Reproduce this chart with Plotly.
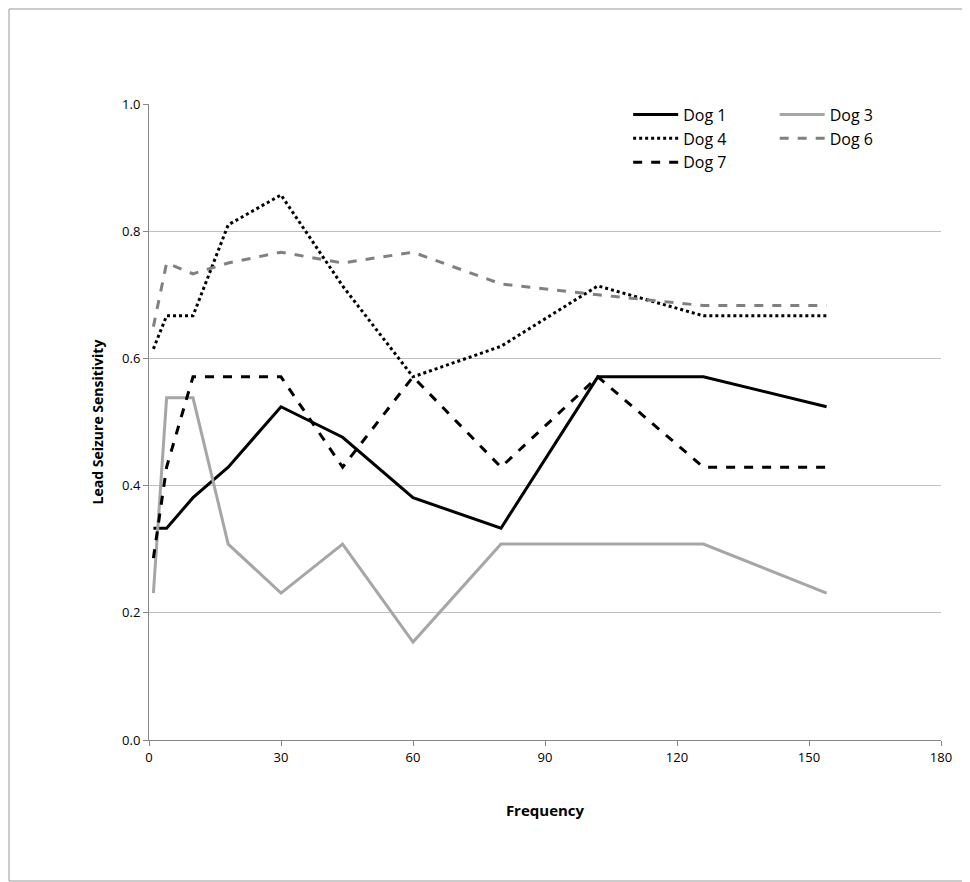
import plotly.graph_objects as go

freq = [1, 4, 10, 18, 30, 44, 60, 80, 102, 126, 154]
dog1 = [0.333, 0.333, 0.381, 0.429, 0.524, 0.476, 0.381, 0.333, 0.571, 0.571, 0.524]
dog3 = [0.231, 0.538, 0.538, 0.308, 0.231, 0.308, 0.154, 0.308, 0.308, 0.308, 0.231]
dog4 = [0.615, 0.667, 0.667, 0.810, 0.857, 0.714, 0.571, 0.619, 0.714, 0.667, 0.667]
dog6 = [0.650, 0.750, 0.733, 0.750, 0.767, 0.750, 0.767, 0.717, 0.700, 0.683, 0.683]
dog7 = [0.286, 0.429, 0.571, 0.571, 0.571, 0.429, 0.571, 0.429, 0.571, 0.429, 0.429]

series = [
    ("Dog 1", dog1, "black", "solid", "legend"),
    ("Dog 3", dog3, "#a6a6a6", "solid", "legend2"),
    ("Dog 4", dog4, "black", "dot", "legend"),
    ("Dog 6", dog6, "#808080", "dash", "legend2"),
    ("Dog 7", dog7, "black", "dash", "legend"),
]

fig = go.Figure()
for name, ys, col, dash, leg in series:
    fig.add_trace(go.Scatter(x=freq, y=ys, name=name, mode="lines", legend=leg,
                             line=dict(color=col, width=3, dash=dash)))

L, T, W, H = 141, 96, 792, 636
legfont = dict(size=16)
fig.update_layout(
    width=970, height=882,
    paper_bgcolor="white", plot_bgcolor="white",
    margin=dict(l=L, r=970 - L - W, t=T, b=882 - T - H),
    font=dict(family="Open Sans, DejaVu Sans", size=13, color="black"),
    legend=dict(x=0.605, y=1.01, xanchor="left", yanchor="top", tracegroupgap=0,
                font=legfont, bgcolor="rgba(0,0,0,0)", itemwidth=45),
    legend2=dict(x=0.79, y=1.01, xanchor="left", yanchor="top",
                 font=legfont, bgcolor="rgba(0,0,0,0)", itemwidth=45),
    xaxis=dict(range=[0, 180], tickvals=[0, 30, 60, 90, 120, 150, 180],
               showgrid=False, showline=True, linecolor="#888", ticks="outside",
               ticklen=5, tickcolor="#888", zeroline=False,
               title=dict(text="<b>Frequency</b>", font=dict(size=15), standoff=40)),
    yaxis=dict(range=[0, 1.0], tickvals=[0, 0.2, 0.4, 0.6, 0.8, 1.0],
               tickformat=".1f", showgrid=True, gridcolor="#c0c0c0",
               showline=True, linecolor="#888", ticks="outside", ticklen=5,
               tickcolor="#888", zeroline=False,
               title=dict(text="<b>Lead Seizure Sensitivity</b>", font=dict(size=14), standoff=15)),
    shapes=[dict(type="rect", xref="paper", yref="paper",
                 x0=(1 - L) / W, x1=(961 - L) / W,
                 y0=(H + T - 873) / H, y1=(H + T - 1) / H,
                 line=dict(color="#999", width=1))],
)

fig.write_html("out.html")
